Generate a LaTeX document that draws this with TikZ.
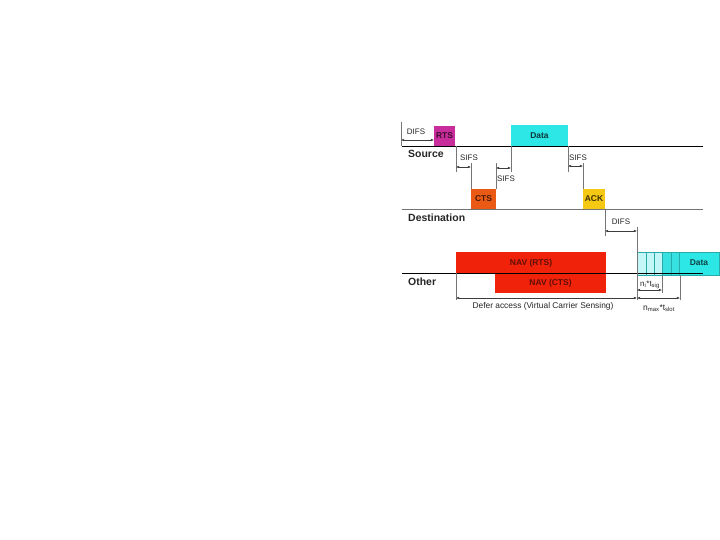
\documentclass[tikz,border=0pt]{standalone}
\usepackage{fontspec}
\setmainfont{Liberation Sans}
\usetikzlibrary{arrows.meta}
\definecolor{rtscol}{RGB}{200,45,155}
\definecolor{datacol}{RGB}{45,230,230}
\definecolor{ctscol}{RGB}{235,90,20}
\definecolor{ackcol}{RGB}{245,200,20}
\definecolor{navcol}{RGB}{240,35,10}
\definecolor{slotlight}{RGB}{195,246,246}
\definecolor{slotmid}{RGB}{55,225,225}
\definecolor{slotedge}{RGB}{40,170,170}
\definecolor{dimcol}{RGB}{60,60,60}
\begin{document}
\begin{tikzpicture}[x=1bp,y=-1bp,
  frame/.style={inner sep=0pt,outer sep=0pt,font=\fontsize{8.5}{9}\selectfont\bfseries},
  lane/.style={line width=0.9pt},
  lanelbl/.style={anchor=west,inner sep=0pt,font=\fontsize{10.5}{12}\selectfont\bfseries,text=black!85},
  tick/.style={draw=dimcol!70,line width=0.45pt},
  dim/.style={draw=dimcol,line width=0.45pt,{Latex[length=3.2bp,width=2.6bp]}-{Latex[length=3.2bp,width=2.6bp]}},
  dimlbl/.style={inner sep=0pt,font=\fontsize{8}{8}\selectfont,text=black!85},
  slot/.style={draw=slotedge,line width=0.4pt}
]
\useasboundingbox[fill=white] (0,0) rectangle (720,540);

% lanes
\coordinate (s0) at (402,146); \coordinate (s1) at (703,146);
\coordinate (d0) at (402,209); \coordinate (d1) at (703,209);
\coordinate (o0) at (402,273); \coordinate (o1) at (703,273);

% boxes
\fill[navcol] (456,252) rectangle (606,273);
\fill[navcol] (495,273) rectangle (606,293);
\node[frame,text=black!60!navcol] (navrts) at (531,263) {NAV (RTS)};
\node[frame,text=black!60!navcol] (navcts) at (550.5,283) {NAV (CTS)};

\fill[rtscol] (434,126) rectangle (455,146);
\node[frame,text=black!70!rtscol] (rts) at (444.5,136) {RTS};
\fill[datacol] (511,125) rectangle (568,146);
\node[frame,text=black!75!datacol] (data) at (539.5,136) {Data};
\fill[ctscol] (471,189) rectangle (496,209);
\node[frame,text=black!70!ctscol] (cts) at (483.5,199) {CTS};
\fill[ackcol] (583,189) rectangle (605,209);
\node[frame,text=black!75!ackcol] (ack) at (594,199) {ACK};

% contention slots
\filldraw[slot,fill=slotlight] (637,252) rectangle (646,275);
\filldraw[slot,fill=slotlight] (646,252) rectangle (654,275);
\filldraw[slot,fill=slotlight] (654,252) rectangle (662,275);
\filldraw[slot,fill=slotmid] (662,252) rectangle (671,275);
\filldraw[slot,fill=slotmid] (671,252) rectangle (679,275);
\filldraw[slot,fill=datacol] (679,252) rectangle (719,275);
\node[frame,text=black!70!datacol] (data2) at (699,263) {Data};

\draw[lane] (s0) -- (s1);
\draw[lane,draw=black!55] (d0) -- (d1);
\draw[lane] (o0) -- (o1);

% lane labels
\node[lanelbl] (src) at (408,154) {Source};
\node[lanelbl] (dst) at (408,218) {Destination};
\node[lanelbl] (oth) at (408,282) {Other};

% DIFS 1
\coordinate (a1) at (401,140); \coordinate (a2) at (434,140);
\draw[tick] (401,122) -- (401,146);
\draw[dim] (a1) -- (a2);
\node[dimlbl] (difs1) at (416,132) {DIFS};

% SIFS 1
\coordinate (b1) at (456,167); \coordinate (b2) at (471,167);
\draw[tick] (456,146) -- (456,172);
\draw[tick] (471,163) -- (471,189);
\draw[dim] (b1) -- (b2);
\node[dimlbl] (sifs1) at (469,158) {SIFS};

% SIFS 2
\coordinate (c1) at (496,168); \coordinate (c2) at (511,168);
\draw[tick] (496,163) -- (496,189);
\draw[tick] (511,146) -- (511,172);
\draw[dim] (c1) -- (c2);
\node[dimlbl] (sifs2) at (506,179) {SIFS};

% SIFS 3
\coordinate (e1) at (568,166); \coordinate (e2) at (583,166);
\draw[tick] (568,146) -- (568,172);
\draw[tick] (583,163) -- (583,189);
\draw[dim] (e1) -- (e2);
\node[dimlbl] (sifs3) at (578,158) {SIFS};

% DIFS 2
\coordinate (f1) at (605,231); \coordinate (f2) at (637,231);
\draw[tick] (605,209) -- (605,236);
\draw[tick] (637,227) -- (637,300);
\draw[dim] (f1) -- (f2);
\node[dimlbl] (difs2) at (621,222) {DIFS};

% Defer access
\coordinate (g1) at (456,298); \coordinate (g2) at (637,298);
\draw[tick] (456,273) -- (456,300);
\draw[dim] (g1) -- (g2);
\node[dimlbl,font=\fontsize{8.4}{9}\selectfont] (defer) at (543,306) {Defer access (Virtual Carrier Sensing)};

% n_i * t_sig
\coordinate (h1) at (637,290); \coordinate (h2) at (662,290);
\draw[tick] (662,275) -- (662,293);
\draw[dim] (h1) -- (h2);
\node[dimlbl,font=\fontsize{8}{8}\selectfont,fill=white,inner sep=0.3pt] (nisig) at (650,285) {n$_\mathrm{i}$*t$_\mathrm{sig}$};

% n_max * t_slot
\coordinate (k1) at (637,298); \coordinate (k2) at (680,298);
\draw[tick] (680,275) -- (680,300);
\draw[dim] (k1) -- (k2);
\node[dimlbl,font=\fontsize{8.5}{9}\selectfont] (nmax) at (659,308) {n$_\mathrm{max}$*t$_\mathrm{slot}$};
\end{tikzpicture}
\end{document}
